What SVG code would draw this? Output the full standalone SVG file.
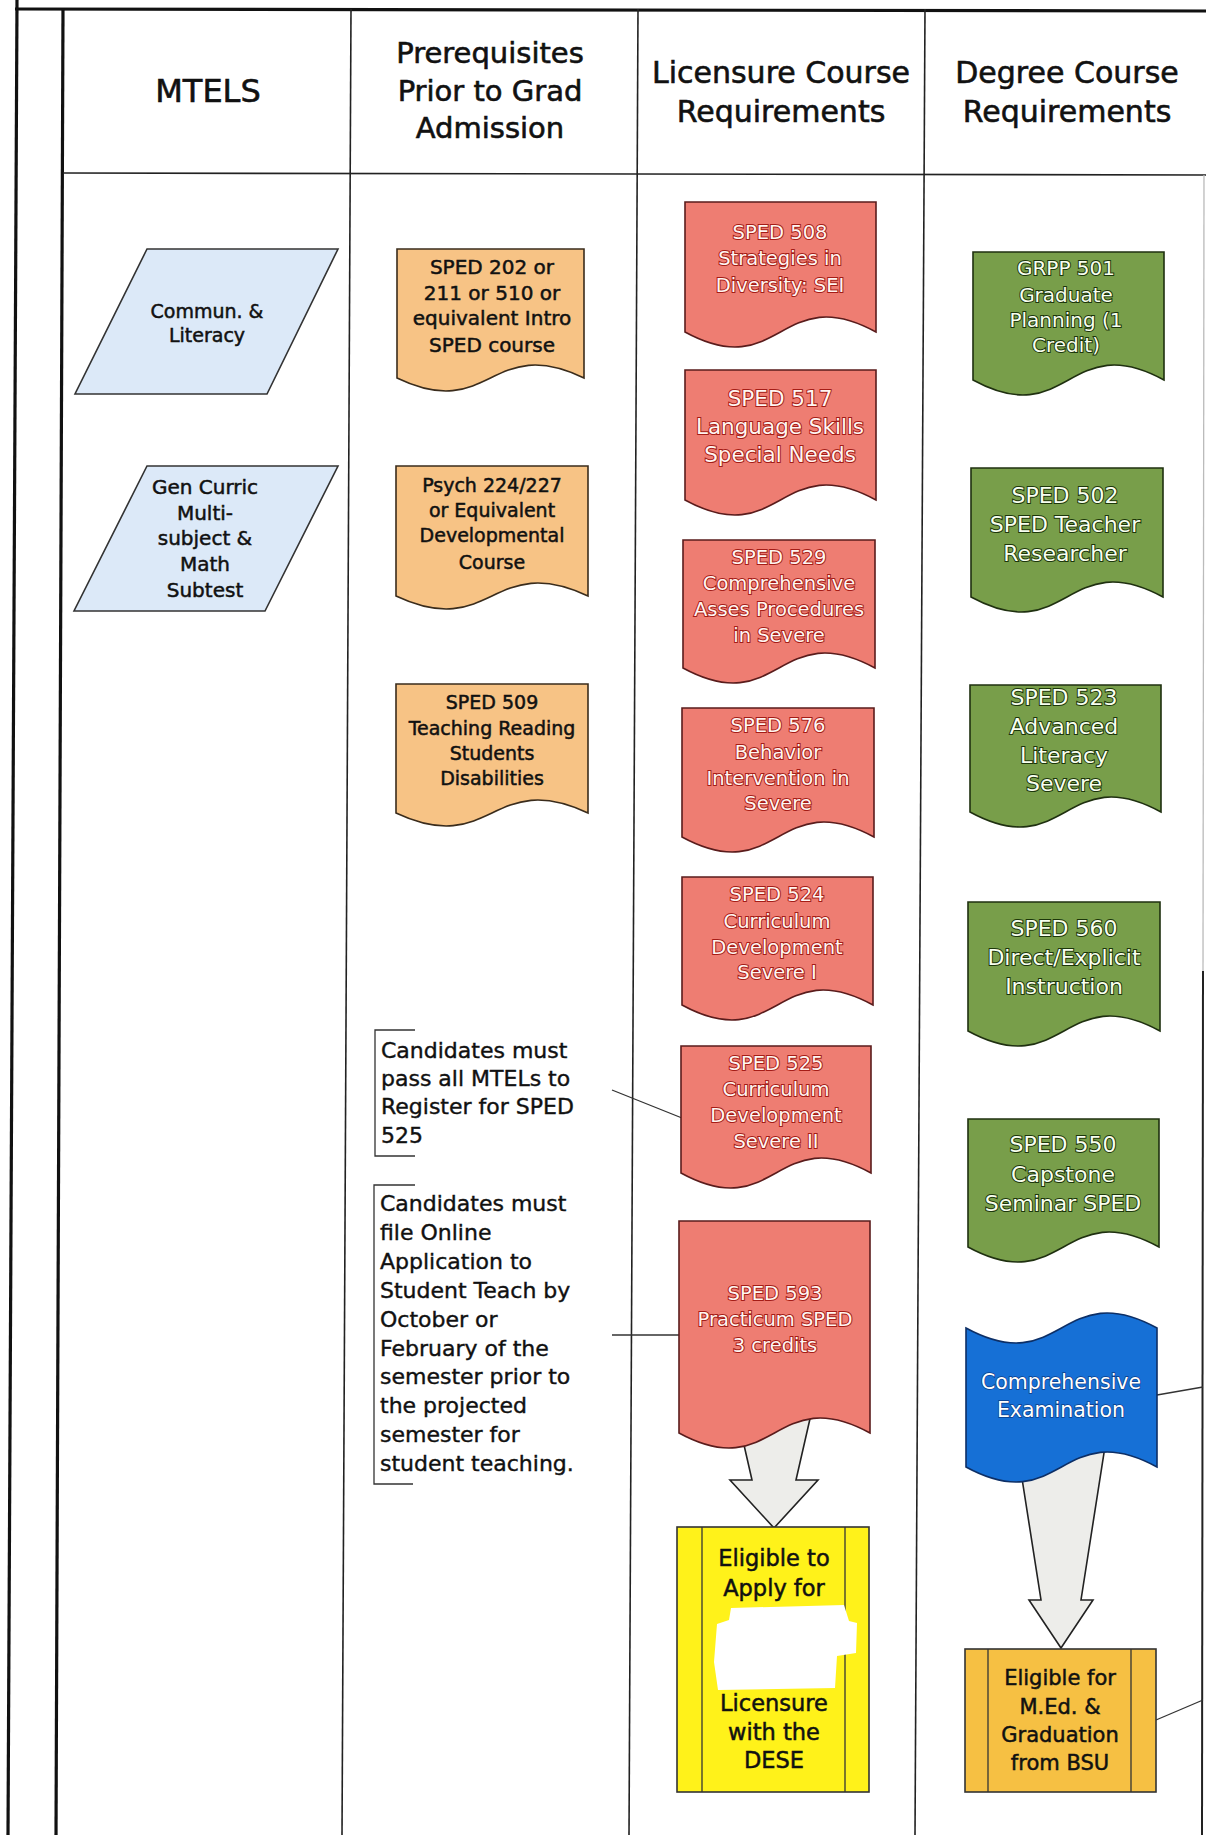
<svg xmlns="http://www.w3.org/2000/svg" width="1206" height="1835" viewBox="0 0 1206 1835">
<style>
text{font-family:"DejaVu Sans","Liberation Sans",sans-serif;text-anchor:middle}
.hd{font-size:30px;fill:#111;stroke:#111;stroke-width:0.6}
.grid{stroke:#222;stroke-width:1.6;fill:none}
.thick{stroke:#111;stroke-width:3.2;fill:none}
.para{fill:#dce9f8;stroke:#333;stroke-width:1.6}
.org{fill:#f7c385;stroke:#3a2c1c;stroke-width:1.6}
.red{fill:#ee7d72;stroke:#5a1c1c;stroke-width:1.6}
.grn{fill:#789e4a;stroke:#1f3010;stroke-width:1.6}
.blu{fill:#1670d6;stroke:#0d2f66;stroke-width:1.6}
.arr{fill:#ededea;stroke:#222;stroke-width:1.6;stroke-linejoin:miter}
.yel{fill:#fff21a;stroke:#333;stroke-width:1.6}
.gold{fill:#f6c043;stroke:#333;stroke-width:1.6}
.ink{fill:#111;stroke:#111;stroke-width:0.5}
.rt{fill:#fff6f2;stroke:#a51c16;stroke-width:2;paint-order:stroke;font-size:19.5px}
.gt{fill:#f8fff0;stroke:#1c360a;stroke-width:2;paint-order:stroke;font-size:22px}
.wt{fill:#ffffff;stroke:#0b3c88;stroke-width:1.4;paint-order:stroke;font-size:20.5px}
.call{font-size:22px;fill:#111;stroke:#111;stroke-width:0.4;text-anchor:start}
.conn{stroke:#333;stroke-width:1.3;fill:none}
</style>

<g id="frame">
<line class="thick" x1="17" y1="0" x2="8" y2="1835"/>
<line class="thick" x1="15" y1="9" x2="1206" y2="11"/>
<line class="thick" x1="63" y1="9" x2="56" y2="1835"/>
<line class="grid" x1="351" y1="9" x2="342" y2="1835"/>
<line class="grid" x1="638" y1="9" x2="629" y2="1835"/>
<line class="grid" x1="925" y1="9" x2="915" y2="1835"/>
<line class="grid" x1="63" y1="173" x2="1206" y2="175"/>
<line stroke="#bbb" stroke-width="1.3" x1="1204" y1="175" x2="1203" y2="971"/>
<line stroke="#222" stroke-width="2" x1="1203" y1="971" x2="1202" y2="1835"/>
</g>

<g id="headers">
<text class="hd" x="208" y="102" style="font-size:32px">MTELS</text>
<text class="hd" x="490" y="63" style="font-size:29px">Prerequisites</text>
<text class="hd" x="490" y="101" style="font-size:29px">Prior to Grad</text>
<text class="hd" x="490" y="138" style="font-size:29px">Admission</text>
<text class="hd" x="781" y="83">Licensure Course</text>
<text class="hd" x="781" y="122">Requirements</text>
<text class="hd" x="1067" y="83">Degree Course</text>
<text class="hd" x="1067" y="122">Requirements</text>
</g>

<g id="connectors">
<polygon class="arr" points="736,1410 812,1410 796,1480 818,1480 774,1528 730,1480 752,1480"/>
<polygon class="arr" points="1016,1440 1106,1440 1081,1600 1093,1600 1061,1648 1029,1600 1041,1600"/>
<line class="conn" x1="612" y1="1090" x2="682" y2="1118"/>
<line class="conn" x1="612" y1="1335" x2="679" y2="1335"/>
<line class="conn" x1="1157" y1="1395" x2="1203" y2="1387"/>
<line class="conn" x1="1156" y1="1720" x2="1203" y2="1700"/>
</g>

<g id="mtel1">
<polygon class="para" points="147,249 338,249 267,394 75,394"/>
<text class="ink" x="207" y="318" font-size="19">Commun. &amp;</text>
<text class="ink" x="207" y="342" font-size="19">Literacy</text>
</g>
<g id="mtel2">
<polygon class="para" points="147,466 338,466 265,611 74,611"/>
<text class="ink" x="205" y="494" font-size="20">Gen Curric</text>
<text class="ink" x="205" y="520" font-size="20">Multi-</text>
<text class="ink" x="205" y="545" font-size="20">subject &amp;</text>
<text class="ink" x="205" y="571" font-size="20">Math</text>
<text class="ink" x="205" y="597" font-size="20">Subtest</text>
</g>

<g id="pre1">
<path class="org" d="M397,249 H584 V378 C490.5,333 490.5,423 397,378 Z"/>
<text class="ink" x="492" y="274" font-size="20">SPED 202 or</text>
<text class="ink" x="492" y="300" font-size="20">211 or 510 or</text>
<text class="ink" x="492" y="325" font-size="20">equivalent Intro</text>
<text class="ink" x="492" y="352" font-size="20">SPED course</text>
</g>
<g id="pre2">
<path class="org" d="M396,466 H588 V596 C492,551 492,641 396,596 Z"/>
<text class="ink" x="492" y="492" font-size="19">Psych 224/227</text>
<text class="ink" x="492" y="517" font-size="19">or Equivalent</text>
<text class="ink" x="492" y="542" font-size="19">Developmental</text>
<text class="ink" x="492" y="569" font-size="19">Course</text>
</g>
<g id="pre3">
<path class="org" d="M396,684 H588 V813 C492,768 492,858 396,813 Z"/>
<text class="ink" x="492" y="709" font-size="19">SPED 509</text>
<text class="ink" x="492" y="735" font-size="19">Teaching Reading</text>
<text class="ink" x="492" y="760" font-size="19">Students</text>
<text class="ink" x="492" y="785" font-size="19">Disabilities</text>
</g>

<g id="lic508">
<path class="red" d="M685,202 H876 V332 C780.5,280 780.5,384 685,332 Z"/>
<text class="rt" x="780" y="239">SPED 508</text>
<text class="rt" x="780" y="265">Strategies in</text>
<text class="rt" x="780" y="292">Diversity: SEI</text>
</g>
<g id="lic517">
<path class="red" d="M685,370 H876 V500 C780.5,448 780.5,552 685,500 Z"/>
<text class="rt" x="780" y="406" style="font-size:21.5px">SPED 517</text>
<text class="rt" x="780" y="434" style="font-size:21.5px">Language Skills</text>
<text class="rt" x="780" y="462" style="font-size:21.5px">Special Needs</text>
</g>
<g id="lic529">
<path class="red" d="M683,540 H875 V668 C779,616 779,720 683,668 Z"/>
<text class="rt" x="779" y="564">SPED 529</text>
<text class="rt" x="779" y="590">Comprehensive</text>
<text class="rt" x="779" y="616">Asses Procedures</text>
<text class="rt" x="779" y="642">in Severe</text>
</g>
<g id="lic576">
<path class="red" d="M682,708 H874 V837 C778,785 778,889 682,837 Z"/>
<text class="rt" x="778" y="732">SPED 576</text>
<text class="rt" x="778" y="759">Behavior</text>
<text class="rt" x="778" y="785">Intervention in</text>
<text class="rt" x="778" y="810">Severe</text>
</g>
<g id="lic524">
<path class="red" d="M682,877 H873 V1005 C777.5,953 777.5,1057 682,1005 Z"/>
<text class="rt" x="777" y="901">SPED 524</text>
<text class="rt" x="777" y="928">Curriculum</text>
<text class="rt" x="777" y="954">Development</text>
<text class="rt" x="777" y="979">Severe I</text>
</g>
<g id="lic525">
<path class="red" d="M681,1046 H871 V1173 C776,1121 776,1225 681,1173 Z"/>
<text class="rt" x="776" y="1070">SPED 525</text>
<text class="rt" x="776" y="1096">Curriculum</text>
<text class="rt" x="776" y="1122">Development</text>
<text class="rt" x="776" y="1148">Severe II</text>
</g>
<g id="lic593">
<path class="red" d="M679,1221 H870 V1433 C774.5,1381 774.5,1485 679,1433 Z"/>
<text class="rt" x="775" y="1300">SPED 593</text>
<text class="rt" x="775" y="1326">Practicum SPED</text>
<text class="rt" x="775" y="1352">3 credits</text>
</g>

<g id="licensure">
<rect class="yel" x="677" y="1527" width="192" height="265"/>
<line class="conn" x1="702" y1="1527" x2="702" y2="1792"/>
<line class="conn" x1="845" y1="1527" x2="845" y2="1792"/>
<text class="ink" x="774" y="1566" font-size="22.5">Eligible to</text>
<text class="ink" x="774" y="1596" font-size="22.5">Apply for</text>
<polygon fill="#ffffff" points="731,1608 844,1605 849,1621 857,1623 856,1653 837,1656 835,1688 718,1690 714,1662 717,1624 729,1620"/>
<text class="ink" x="774" y="1711" font-size="22.5">Licensure</text>
<text class="ink" x="774" y="1740" font-size="22.5">with the</text>
<text class="ink" x="774" y="1768" font-size="22.5">DESE</text>
</g>

<g id="deg501">
<path class="grn" d="M973,252 H1164 V380 C1068.5,328 1068.5,432 973,380 Z"/>
<text class="gt" x="1066" y="275" style="font-size:20px">GRPP 501</text>
<text class="gt" x="1066" y="302" style="font-size:20px">Graduate</text>
<text class="gt" x="1066" y="327" style="font-size:20px">Planning (1</text>
<text class="gt" x="1066" y="352" style="font-size:20px">Credit)</text>
</g>
<g id="deg502">
<path class="grn" d="M971,468 H1163 V597 C1067,545 1067,649 971,597 Z"/>
<text class="gt" x="1065" y="503">SPED 502</text>
<text class="gt" x="1065" y="532">SPED Teacher</text>
<text class="gt" x="1065" y="561">Researcher</text>
</g>
<g id="deg523">
<path class="grn" d="M970,685 H1161 V812 C1065.5,760 1065.5,864 970,812 Z"/>
<text class="gt" x="1064" y="705">SPED 523</text>
<text class="gt" x="1064" y="734">Advanced</text>
<text class="gt" x="1064" y="763">Literacy</text>
<text class="gt" x="1064" y="791">Severe</text>
</g>
<g id="deg560">
<path class="grn" d="M968,902 H1160 V1031 C1064,979 1064,1083 968,1031 Z"/>
<text class="gt" x="1064" y="936">SPED 560</text>
<text class="gt" x="1064" y="965">Direct/Explicit</text>
<text class="gt" x="1064" y="994">Instruction</text>
</g>
<g id="deg550">
<path class="grn" d="M968,1119 H1159 V1247 C1063.5,1195 1063.5,1299 968,1247 Z"/>
<text class="gt" x="1063" y="1152">SPED 550</text>
<text class="gt" x="1063" y="1182">Capstone</text>
<text class="gt" x="1063" y="1211">Seminar SPED</text>
</g>

<g id="exam">
<path class="blu" d="M966,1328 C1061.5,1380 1061.5,1276 1157,1328 V1467 C1061.5,1415 1061.5,1519 966,1467 Z"/>
<text class="wt" x="1061" y="1389">Comprehensive</text>
<text class="wt" x="1061" y="1417">Examination</text>
</g>

<g id="graduation">
<rect class="gold" x="965" y="1649" width="191" height="143"/>
<line class="conn" x1="988" y1="1649" x2="988" y2="1792"/>
<line class="conn" x1="1131" y1="1649" x2="1131" y2="1792"/>
<text class="ink" x="1060" y="1685" font-size="21">Eligible for</text>
<text class="ink" x="1060" y="1714" font-size="21">M.Ed. &amp;</text>
<text class="ink" x="1060" y="1742" font-size="21">Graduation</text>
<text class="ink" x="1060" y="1770" font-size="21">from BSU</text>
</g>

<g id="note1">
<path class="conn" d="M415,1030 H375 V1156 H415"/>
<text class="call" x="381" y="1058">Candidates must</text>
<text class="call" x="381" y="1086">pass all MTELs to</text>
<text class="call" x="381" y="1114">Register for SPED</text>
<text class="call" x="381" y="1143">525</text>
</g>
<g id="note2">
<path class="conn" d="M415,1185 H374 V1484 H413"/>
<text class="call" x="380" y="1211">Candidates must</text>
<text class="call" x="380" y="1240">file Online</text>
<text class="call" x="380" y="1269">Application to</text>
<text class="call" x="380" y="1298">Student Teach by</text>
<text class="call" x="380" y="1327">October or</text>
<text class="call" x="380" y="1356">February of the</text>
<text class="call" x="380" y="1384">semester prior to</text>
<text class="call" x="380" y="1413">the projected</text>
<text class="call" x="380" y="1442">semester for</text>
<text class="call" x="380" y="1471">student teaching.</text>
</g>
</svg>
